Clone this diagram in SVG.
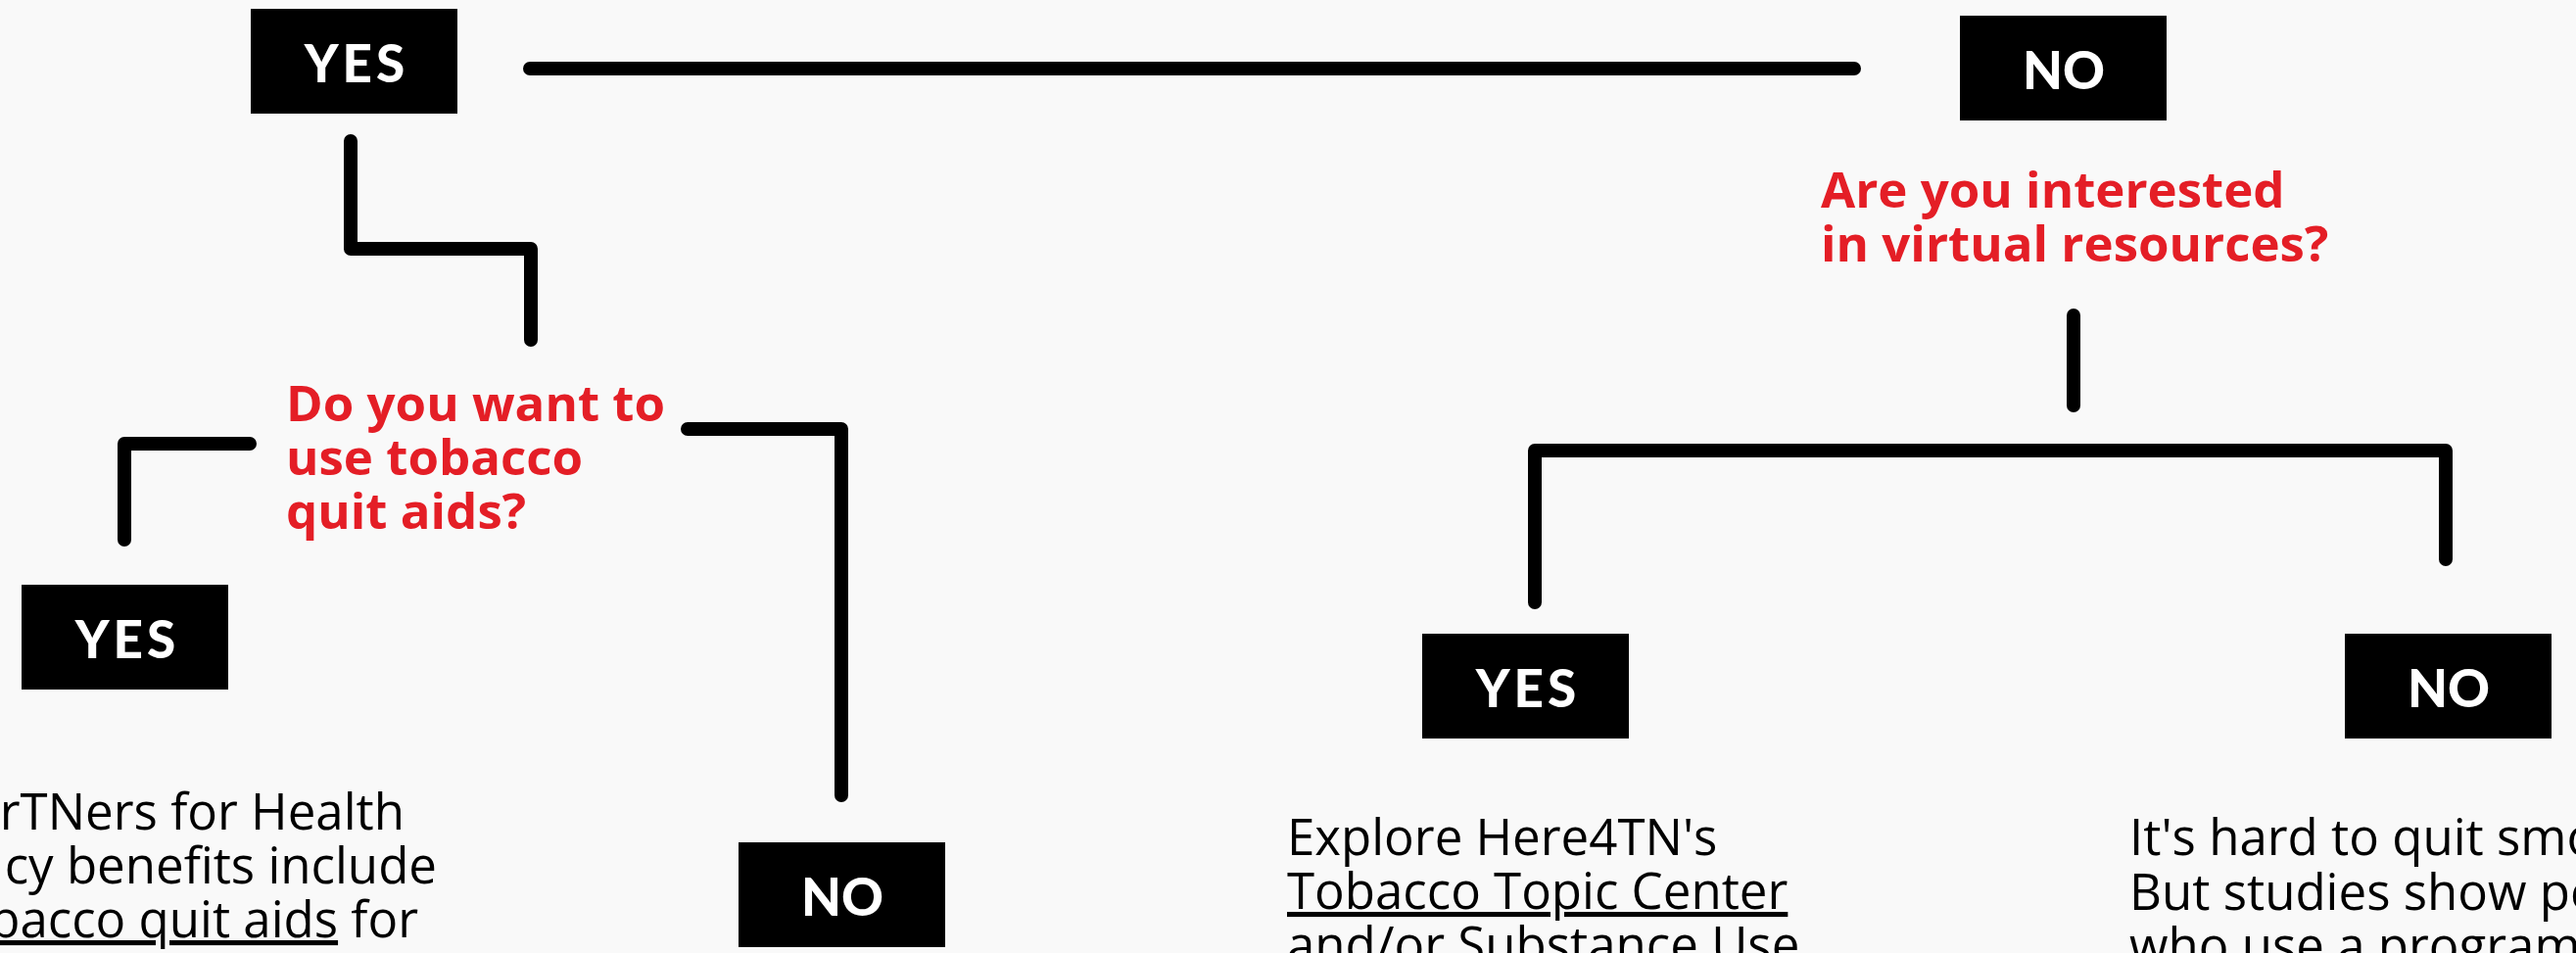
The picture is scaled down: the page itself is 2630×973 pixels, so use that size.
<svg xmlns="http://www.w3.org/2000/svg" width="2630" height="973" viewBox="0 0 2630 973">
<style>
.box{fill:#000}
.lbl{fill:#fff;font-family:Lato,"Open Sans",sans-serif;font-weight:900;font-size:53px;text-anchor:middle}
.yes{letter-spacing:4px}
.q{fill:#e41e26;font-family:"Open Sans","Noto Sans",sans-serif;font-weight:700;font-size:51px}
.body{fill:#000;font-family:"Open Sans","Noto Sans",sans-serif;font-weight:400;font-size:51px}
.u{text-decoration:underline}
.conn path{fill:none;stroke:#000;stroke-width:14;stroke-linecap:round;stroke-linejoin:round}
</style>
<rect width="2630" height="973" fill="#f9f9f9"/>
<g id="connectors" class="conn">
<path d="M541 70H1893"/>
<path d="M358 144V254H542V347"/>
<path d="M255 453H127V551"/>
<path d="M702 438H859V812"/>
<path d="M2117 322V414"/>
<path d="M1567 615V460H2497V571"/>
</g>
<g id="yes-top"><rect class="box" x="256" y="9" width="211" height="107"/><text class="lbl yes" x="364" y="84">YES</text></g>
<g id="no-top"><rect class="box" x="2001" y="16" width="211" height="107"/><text class="lbl" x="2107" y="91">NO</text></g>
<g id="q-quit-aids"><text class="q"><tspan x="292" y="430">Do you want to</tspan><tspan x="292" y="485">use tobacco</tspan><tspan x="292" y="540">quit aids?</tspan></text></g>
<g id="q-virtual"><text class="q"><tspan x="1859" y="212">Are you interested</tspan><tspan x="1859" y="267">in virtual resources?</tspan></text></g>
<g id="yes-aids"><rect class="box" x="22" y="597" width="211" height="107"/><text class="lbl yes" x="130" y="672">YES</text></g>
<g id="no-aids"><rect class="box" x="754" y="860" width="211" height="107"/><text class="lbl" x="860" y="935">NO</text></g>
<g id="yes-virtual"><rect class="box" x="1452" y="647" width="211" height="107"/><text class="lbl yes" x="1560" y="722">YES</text></g>
<g id="no-virtual"><rect class="box" x="2394" y="647" width="211" height="107"/><text class="lbl" x="2500" y="722">NO</text></g>
<g id="text-aids"><text class="body" text-anchor="end"><tspan x="413" y="847">rTNers for Health</tspan><tspan x="446" y="902">cy benefits include</tspan><tspan x="427" y="957"><tspan class="u">bacco quit aids</tspan> for</tspan></text></g>
<g id="text-virtual"><text class="body"><tspan x="1314" y="873">Explore Here4TN's</tspan><tspan x="1314" y="928" class="u">Tobacco Topic Center</tspan><tspan x="1314" y="983">and/or Substance Use</tspan></text></g>
<g id="text-program"><text class="body"><tspan x="2174" y="873">It's hard to quit smo</tspan><tspan x="2174" y="929">But studies show pe</tspan><tspan x="2174" y="984">who use a program</tspan></text></g>
</svg>
